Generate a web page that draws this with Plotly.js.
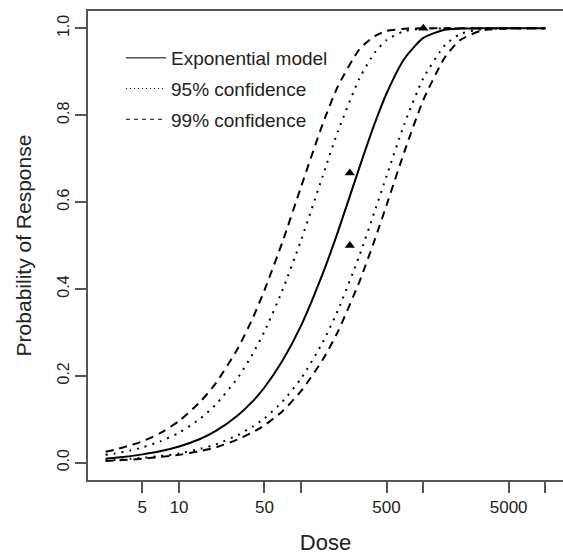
<!DOCTYPE html>
<html>
<head>
<meta charset="utf-8">
<script src="https://cdn.plot.ly/plotly-3.0.1.min.js"></script>
<style>
html,body{margin:0;padding:0;background:#fff;}
#chart{width:563px;height:558px;}
</style>
</head>
<body>
<div id="chart"></div>
<script>
const dose = [2.5, 3, 4, 5, 7, 10, 15, 20, 30, 40, 50, 70, 100, 150, 200, 300, 400, 500, 700, 1000, 1500, 2000, 3000, 5000, 7000, 10000];
// Exponential model fit
const modelProb = [0.009, 0.011, 0.015, 0.019, 0.026, 0.037, 0.055, 0.073, 0.108, 0.141, 0.173, 0.234, 0.316, 0.435, 0.532, 0.680, 0.781, 0.850, 0.930, 0.978, 0.997, 0.9995, 1.000, 1.000, 1.000, 1.000];
// 95% confidence band
const upper95 = [0.018, 0.021, 0.028, 0.035, 0.049, 0.069, 0.102, 0.134, 0.194, 0.250, 0.302, 0.396, 0.513, 0.660, 0.763, 0.885, 0.944, 0.973, 0.994, 0.999, 1.000, 1.000, 1.000, 1.000, 1.000, 1.000];
const lower95 = [0.005, 0.006, 0.009, 0.011, 0.015, 0.021, 0.032, 0.042, 0.063, 0.083, 0.102, 0.140, 0.194, 0.277, 0.351, 0.477, 0.579, 0.660, 0.780, 0.885, 0.961, 0.987, 0.998, 1.000, 1.000, 1.000];
// 99% confidence band
const upper99 = [0.025, 0.030, 0.040, 0.049, 0.068, 0.096, 0.141, 0.183, 0.261, 0.332, 0.397, 0.507, 0.636, 0.780, 0.867, 0.952, 0.982, 0.994, 0.999, 1.000, 1.000, 1.000, 1.000, 1.000, 1.000, 1.000];
const lower99 = [0.004, 0.005, 0.007, 0.009, 0.013, 0.018, 0.027, 0.035, 0.053, 0.070, 0.086, 0.118, 0.165, 0.237, 0.302, 0.417, 0.513, 0.593, 0.716, 0.835, 0.933, 0.973, 0.995, 1.000, 1.000, 1.000];
// Observed data points
const obsDose = [250, 250, 1000];
const obsProb = [0.667, 0.5, 1.0];
// Axis ticks
const xTickVals = [5, 10, 50, 100, 500, 1000, 5000, 10000];
const xTickText = ['5', '10', '50', '', '500', '', '5000', ''];
const yTickVals = [0, 0.2, 0.4, 0.6, 0.8, 1.0];
const yTickText = ['0.0', '0.2', '0.4', '0.6', '0.8', '1.0'];
const legendNames = ['Exponential model', '95% confidence', '99% confidence'];

const FONT = 'Liberation Sans, Arial, sans-serif';
const DOT = '2px,6px';
const DASH = '8px,6px';

function curve(y, dash) {
  return {x: dose, y: y, type: 'scatter', mode: 'lines', showlegend: false, hoverinfo: 'skip',
          line: {color: '#000', width: 2, dash: dash, shape: 'spline', smoothing: 0.6}};
}
function legendItem(name, dash, group) {
  return {x: [null], y: [null], type: 'scatter', mode: 'lines', name: name, legendgroup: group,
          line: {color: '#000', width: 1, dash: dash}};
}

const data = [
  curve(modelProb, 'solid'),
  curve(upper95, DOT),
  curve(lower95, DOT),
  curve(upper99, DASH),
  curve(lower99, DASH),
  {x: obsDose, y: obsProb, type: 'scatter', mode: 'markers', showlegend: false,
   marker: {symbol: 'triangle-up', size: 9, color: '#000'}},
  legendItem(legendNames[0], 'solid', 'a'),
  legendItem(legendNames[1], '1px,3px', 'b'),
  legendItem(legendNames[2], '4px,4px', 'c')
];

const layout = {
  width: 563, height: 558,
  margin: {l: 88, r: 0, t: 11, b: 78},
  paper_bgcolor: '#fff', plot_bgcolor: '#fff',
  font: {family: FONT, color: '#222'},
  showlegend: true,
  legend: {x: (121 - 88) / 475, y: 1 - (39 - 11) / 469, xanchor: 'left', yanchor: 'top',
           bgcolor: 'rgba(0,0,0,0)', borderwidth: 0, font: {size: 19, family: FONT, color: '#222'},
           tracegroupgap: 3, traceorder: 'grouped', itemwidth: 40},
  xaxis: {
    type: 'log', range: [0.254, 4.144],
    tickvals: xTickVals, ticktext: xTickText,
    ticks: 'outside', ticklen: 11, tickwidth: 2, tickcolor: '#555',
    showline: true, linecolor: '#555', linewidth: 2, mirror: true,
    showgrid: false, zeroline: false,
    tickfont: {size: 17, family: FONT, color: '#222'},
    title: {text: 'Dose', font: {size: 22, family: FONT, color: '#222'}, standoff: 18}
  },
  yaxis: {
    range: [-0.04, 1.04],
    tickvals: yTickVals, ticktext: yTickText, tickangle: -90,
    ticks: 'outside', ticklen: 11, tickwidth: 2, tickcolor: '#555',
    showline: true, linecolor: '#555', linewidth: 2, mirror: true,
    showgrid: false, zeroline: false,
    tickfont: {size: 16, family: FONT, color: '#222'},
    title: {text: 'Probability of Response', font: {size: 21, family: FONT, color: '#222'}, standoff: 17}
  }
};

Plotly.newPlot('chart', data, layout, {staticPlot: true, displayModeBar: false});
</script>
</body>
</html>
